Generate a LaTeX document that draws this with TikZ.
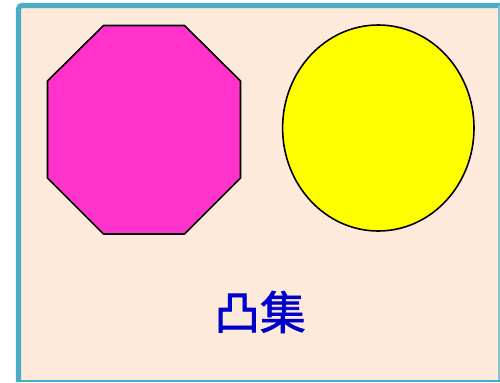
\documentclass[tikz,border=0pt]{standalone}
\usepackage{fontspec}
\newfontfamily\cjk[FakeBold=1.6]{Noto Sans CJK SC}
\definecolor{framePeach}{RGB}{253,234,219}
\definecolor{frameTeal}{RGB}{75,172,198}
\definecolor{octMagenta}{RGB}{255,51,204}
\definecolor{discYellow}{RGB}{255,255,0}
\definecolor{titleBlue}{RGB}{0,0,204}
\begin{document}
\begin{tikzpicture}[x=0.02cm,y=-0.02cm,
  figure/.style={draw=black, line width=0.9pt, line join=round},
  title/.style={font=\cjk\fontsize{26}{30}\selectfont, text=titleBlue}
]
  \useasboundingbox (0,0) rectangle (500,382);
  % frame
  \fill[framePeach] (19,6) rectangle (499,380);
  \draw[frameTeal, line width=2.9pt, rounded corners=2pt]
    (18.5,382) -- (18.5,5.5) -- (500,5.5);
  \draw[frameTeal!70, line width=1.2pt] (499,5.5) -- (499,381);
  \draw[frameTeal, line width=1.2pt] (18.5,381) -- (500,381);
  % octagon
  \draw[figure, fill=octMagenta]
    (103.5,25.5) -- (184.5,25.5) -- (240.5,81) -- (240.5,178) -- (184.5,234)
    -- (103.5,234) -- (47.5,178) -- (47.5,81) -- cycle;
  % ellipse
  \draw[figure, fill=discYellow] (378.3,128) ellipse [x radius=95.7, y radius=103];
  % label
  \node[title] (label) at (260,312) {凸集};
\end{tikzpicture}
\end{document}
